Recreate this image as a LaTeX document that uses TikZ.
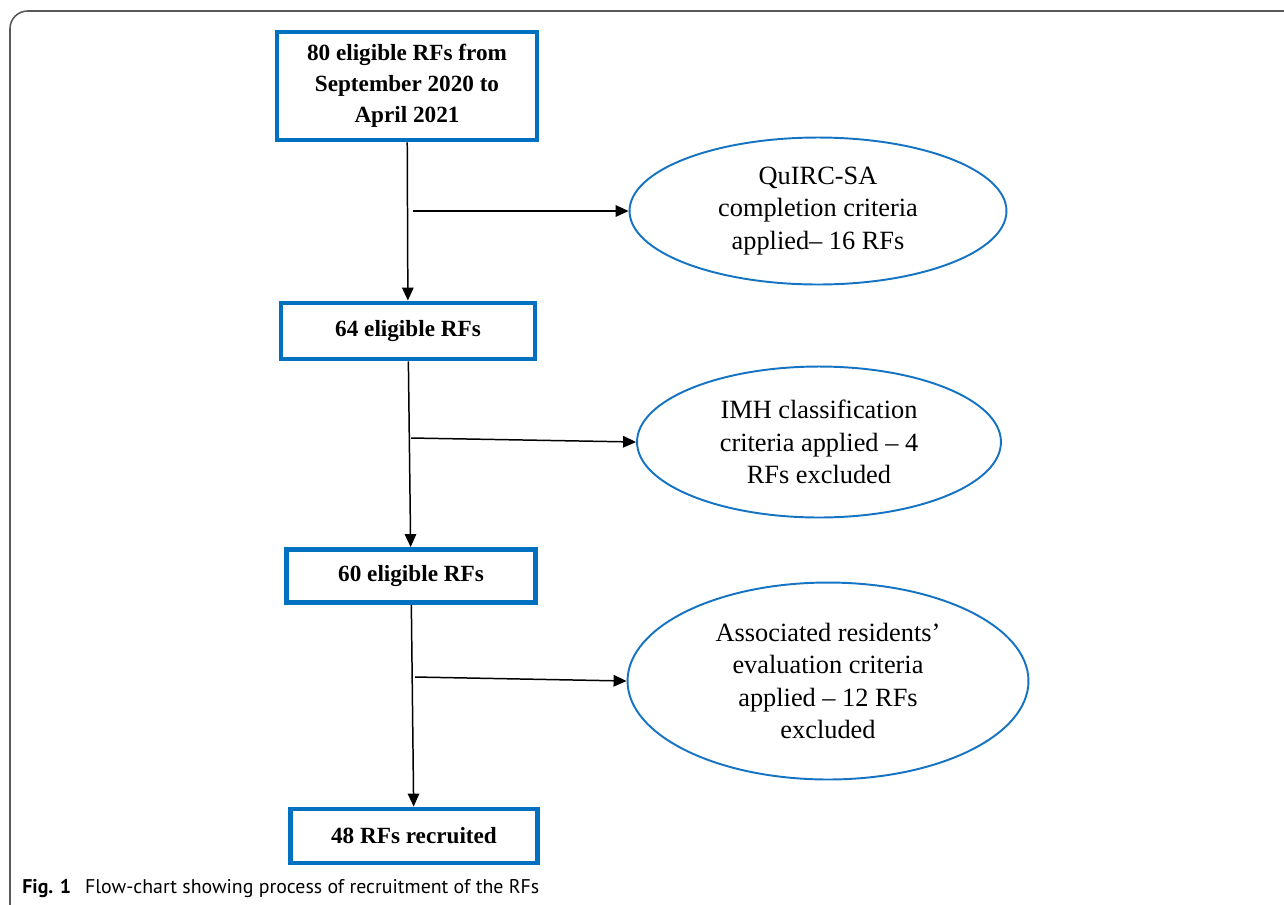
\documentclass[tikz,border=0pt]{standalone}
\usepackage{fontspec}
\setmainfont{Liberation Serif}
\newfontfamily\capfont{PT Sans}
\usepackage{tikz}
\usetikzlibrary{positioning,arrows.meta,shapes.geometric,calc}
\definecolor{boxrule}{RGB}{0,112,192}
\definecolor{ovalrule}{RGB}{20,115,195}
\definecolor{framegray}{RGB}{90,90,90}
\tikzset{
  stagebox/.style={rectangle,draw=boxrule,line width=2.8pt,align=center,inner sep=0pt,font=\fontsize{13.2}{17.8}\selectfont\bfseries},
  critoval/.style={ellipse,draw=ovalrule,line width=1.1pt,align=center,inner sep=0pt,font=\fontsize{15}{18.5}\selectfont},
  flowarrow/.style={-{Triangle[length=2.6mm,width=2.3mm]},line width=0.85pt}
}
\begin{document}
\begin{tikzpicture}[x=0.02cm,y=-0.02cm]
  \useasboundingbox (0,0) rectangle (1284,904);
  \begin{scope}
    \clip (0,0) rectangle (1284,904);
    \draw[framegray,line width=0.9pt,rounded corners=10] (10,11) rectangle (1330,950);
  \end{scope}
  % main stages
  \node[stagebox,minimum width=5.2cm,minimum height=2.16cm] (rf80) at (407,86) {80 eligible RFs from\\September 2020 to\\April 2021};
  \node[stagebox,minimum width=5.08cm,minimum height=1.12cm] (rf64) at (408,331) {64 eligible RFs};
  \node[stagebox,minimum width=4.98cm,minimum height=1.06cm] (rf60) at (411,576) {60 eligible RFs};
  \node[stagebox,minimum width=4.94cm,minimum height=1.08cm] (rf48) at (414,836) {48 RFs recruited};
  % exclusion criteria
  \node[critoval,minimum width=7.54cm,minimum height=2.94cm] (quirc) at (818,211) {QuIRC-SA\\completion criteria\\applied– 16 RFs};
  \node[critoval,minimum width=7.28cm,minimum height=3.02cm] (imh) at (819,442) {IMH classification\\criteria applied – 4\\RFs excluded};
  \node[critoval,minimum width=8.02cm,minimum height=3.94cm] (resid) at (828,681) {Associated residents’\\evaluation criteria\\applied – 12 RFs\\excluded};
  \coordinate (split1) at (413,211);
  \coordinate (split2) at (411,438);
  \coordinate (split3) at (415,677);
  \draw[flowarrow] (rf80) -- (rf64);
  \draw[flowarrow] (rf64) -- (rf60);
  \draw[flowarrow] (rf60) -- (rf48);
  \draw[flowarrow] (split1) -- (quirc.west);
  \draw[flowarrow] (split2) -- (imh.west);
  \draw[flowarrow] (split3) -- (resid.west);
  % caption
  \node[anchor=base west,inner sep=0pt,font=\capfont\fontsize{11.3}{13}\selectfont] (cap) at (22,893) {\textbf{Fig. 1}\hspace{0.7em}Flow-chart showing process of recruitment of the RFs};
\end{tikzpicture}
\end{document}
